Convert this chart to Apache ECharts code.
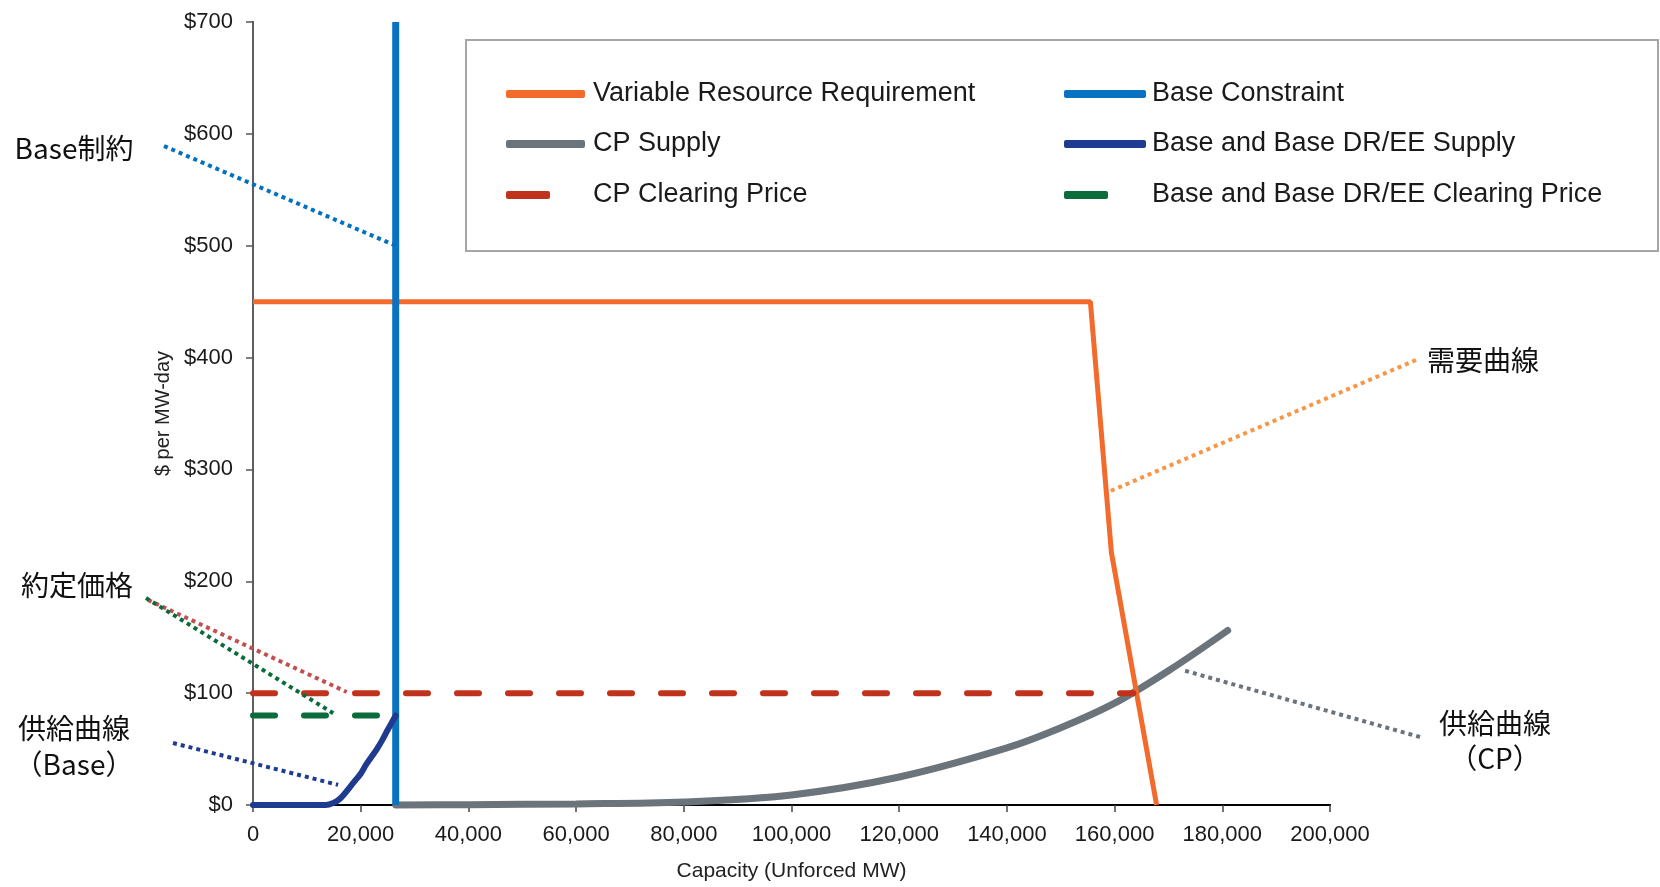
<!DOCTYPE html>
<html>
<head>
<meta charset="utf-8">
<script src="https://cdn.jsdelivr.net/npm/echarts@6/dist/echarts.min.js"></script>
<style>
  html, body { margin: 0; padding: 0; background: #fff; }
  #chart { width: 1660px; height: 887px; }
</style>
</head>
<body>
<div id="chart"></div>
<script>
// capacity (MW) / price ($ per MW-day) pairs
var vrrCapacity = [0, 155500, 159400, 167800];
var vrrPrice = [450, 450, 226, 0];

var baseConstraintCapacity = [26500, 26500];
var baseConstraintPrice = [0, 700];

var cpSupplyCapacity = [26500, 40000, 60000, 80000, 100000, 120000, 140000, 150000, 160000, 170000, 181000];
var cpSupplyPrice = [0, 0.3, 1, 2.7, 9, 25, 51, 69, 91, 120, 156];

var baseSupplyCapacity = [0, 13500, 15000, 16000, 17000, 18000, 19000, 20000, 21000, 22000, 23000, 24000, 25000, 26500];
var baseSupplyPrice = [0, 0, 2, 5, 10, 16, 22, 28, 36, 43, 50, 58, 67, 80];

var cpClearingCapacity = [0, 163500];
var cpClearingPrice = [100, 100];

var baseClearingCapacity = [0, 26500];
var baseClearingPrice = [80, 80];

var seriesNames = [
  'Variable Resource Requirement',
  'CP Supply',
  'CP Clearing Price',
  'Base Constraint',
  'Base and Base DR/EE Supply',
  'Base and Base DR/EE Clearing Price'
];

function pairs(xs, ys) {
  var out = [];
  for (var i = 0; i < xs.length; i++) {
    out.push([xs[i], ys[i]]);
  }
  return out;
}

var latin = '"Liberation Sans", Arial, sans-serif';
var cjk = '"Noto Sans CJK JP", "Noto Sans CJK SC", sans-serif';

var myChart = echarts.init(document.getElementById('chart'));

var legendText = { fontFamily: latin, fontSize: 27, color: '#1a1a1a', lineHeight: 30 };

var option = {
  animation: false,
  backgroundColor: '#fff',
  grid: { left: 253, top: 22, right: 330, bottom: 80, show: false },
  legend: [
    {
      left: 506, top: 79, orient: 'vertical', padding: 0, itemGap: 20, z: 20,
      itemWidth: 79, itemHeight: 8, icon: 'roundRect',
      textStyle: Object.assign({ padding: [0, 0, 0, 3] }, legendText),
      data: [seriesNames[0], seriesNames[1]]
    },
    {
      left: 506, top: 180, orient: 'vertical', padding: 0, z: 20,
      itemWidth: 44, itemHeight: 8, icon: 'roundRect',
      textStyle: Object.assign({ padding: [0, 0, 0, 38] }, legendText),
      data: [seriesNames[2]]
    },
    {
      left: 1064, top: 79, orient: 'vertical', padding: 0, itemGap: 20, z: 20,
      itemWidth: 82, itemHeight: 8, icon: 'roundRect',
      textStyle: Object.assign({ padding: [0, 0, 0, 1] }, legendText),
      data: [seriesNames[3], seriesNames[4]]
    },
    {
      left: 1064, top: 180, orient: 'vertical', padding: 0, z: 20,
      itemWidth: 44, itemHeight: 8, icon: 'roundRect',
      textStyle: Object.assign({ padding: [0, 0, 0, 39] }, legendText),
      data: [seriesNames[5]]
    }
  ],
  xAxis: [
    {
      type: 'value', min: 0, max: 200000, interval: 20000,
      name: 'Capacity (Unforced MW)', nameLocation: 'middle', nameGap: 56,
      nameTextStyle: { fontFamily: latin, fontSize: 21, color: '#222' },
      axisLine: { show: true, lineStyle: { color: '#000', width: 2 } },
      axisTick: { show: true, inside: false, length: 7, lineStyle: { color: '#444', width: 1.5 } },
      axisLabel: {
        margin: 19, fontFamily: latin, fontSize: 22, color: '#1a1a1a',
        formatter: function (v) { return v.toLocaleString('en-US'); }
      },
      splitLine: { show: false }
    },
    {
      type: 'value', min: 0, max: 200000, position: 'top',
      axisLine: { show: true, lineStyle: { color: '#000', width: 2 } },
      axisTick: { show: false }, axisLabel: { show: false }, splitLine: { show: false }
    }
  ],
  yAxis: [
    {
      type: 'value', min: 0, max: 700, interval: 100,
      name: '$ per MW-day', nameLocation: 'middle', nameRotate: 90, nameGap: 80,
      nameTextStyle: { fontFamily: latin, fontSize: 20, color: '#222' },
      axisLine: { show: true, lineStyle: { color: '#000', width: 2 } },
      axisTick: { show: true, inside: false, length: 7, lineStyle: { color: '#555', width: 1.5 } },
      axisLabel: {
        margin: 20, fontFamily: latin, fontSize: 22, color: '#1a1a1a',
        formatter: function (v) { return '$' + v; }
      },
      splitLine: { show: false }
    },
    {
      type: 'value', min: 0, max: 700, position: 'right',
      axisLine: { show: true, lineStyle: { color: '#7f7f7f', width: 1.5 } },
      axisTick: { show: false }, axisLabel: { show: false }, splitLine: { show: false }
    }
  ],
  series: [
    {
      name: seriesNames[1], type: 'line', showSymbol: false, clip: false,
      smooth: 0.35, color: '#6b737b',
      lineStyle: { width: 7, color: '#6b737b', cap: 'round' },
      data: pairs(cpSupplyCapacity, cpSupplyPrice)
    },
    {
      name: seriesNames[0], type: 'line', showSymbol: false, clip: false, color: '#f26a2c',
      lineStyle: { width: 5, color: '#f26a2c' },
      data: pairs(vrrCapacity, vrrPrice)
    },
    {
      name: seriesNames[3], type: 'line', showSymbol: false, clip: false, color: '#0a72c0',
      lineStyle: { width: 7, color: '#0a72c0' },
      data: pairs(baseConstraintCapacity, baseConstraintPrice)
    },
    {
      name: seriesNames[4], type: 'line', showSymbol: false, clip: false,
      smooth: 0.35, color: '#1f3b8f',
      lineStyle: { width: 6, color: '#1f3b8f', cap: 'round' },
      data: pairs(baseSupplyCapacity, baseSupplyPrice)
    },
    {
      name: seriesNames[2], type: 'line', showSymbol: false, clip: false, color: '#c0321c',
      lineStyle: { width: 6, color: '#c0321c', type: [22, 29], cap: 'round' },
      data: pairs(cpClearingCapacity, cpClearingPrice)
    },
    {
      name: seriesNames[5], type: 'line', showSymbol: false, clip: false, color: '#0b6b3a',
      lineStyle: { width: 6, color: '#0b6b3a', type: [22, 29], cap: 'round' },
      data: pairs(baseClearingCapacity, baseClearingPrice)
    }
  ]
};
myChart.setOption(option);

// leader lines: label end in pixels, chart end in data units
function px(x, y) { return myChart.convertToPixel({ xAxisIndex: 0, yAxisIndex: 0 }, [x, y]); }

var leaders = [
  { from: [164, 146], to: [26500, 500], color: '#0070c0' },
  { from: [148, 600], to: [17400, 101], color: '#c0504d' },
  { from: [146, 598], to: [14900, 82], color: '#0b6b3a' },
  { from: [173, 743], to: [15800, 18], color: '#1f3b8f' },
  { from: [1416, 360], to: [158900, 280], color: '#f79646' },
  { from: [1420, 737], to: [173100, 120], color: '#6b737b' }
];

var labels = [
  { text: 'Base制約', x: 74, y: 148 },
  { text: '約定価格', x: 77, y: 585 },
  { text: '供給曲線', x: 74, y: 728 },
  { text: '（Base）', x: 74, y: 764 },
  { text: '需要曲線', x: 1483, y: 360 },
  { text: '供給曲線', x: 1495, y: 723 },
  { text: '（CP）', x: 1495, y: 758 }
];

var graphics = [
  {
    type: 'rect', z: 10,
    shape: { x: 466, y: 40, width: 1192, height: 211 },
    style: { fill: '#fff', stroke: '#a6a6a6', lineWidth: 2 }
  }
];

leaders.forEach(function (l) {
  var end = px(l.to[0], l.to[1]);
  graphics.push({
    type: 'line', z: 30,
    shape: { x1: l.from[0], y1: l.from[1], x2: end[0], y2: end[1] },
    style: { stroke: l.color, lineWidth: 4, lineDash: [4, 4] }
  });
});

labels.forEach(function (t) {
  graphics.push({
    type: 'text', z: 30, x: t.x, y: t.y,
    style: {
      text: t.text, fontFamily: cjk, fontSize: 28, fill: '#111',
      align: 'center', verticalAlign: 'middle'
    }
  });
});

myChart.setOption({ graphic: graphics });
</script>
</body>
</html>
